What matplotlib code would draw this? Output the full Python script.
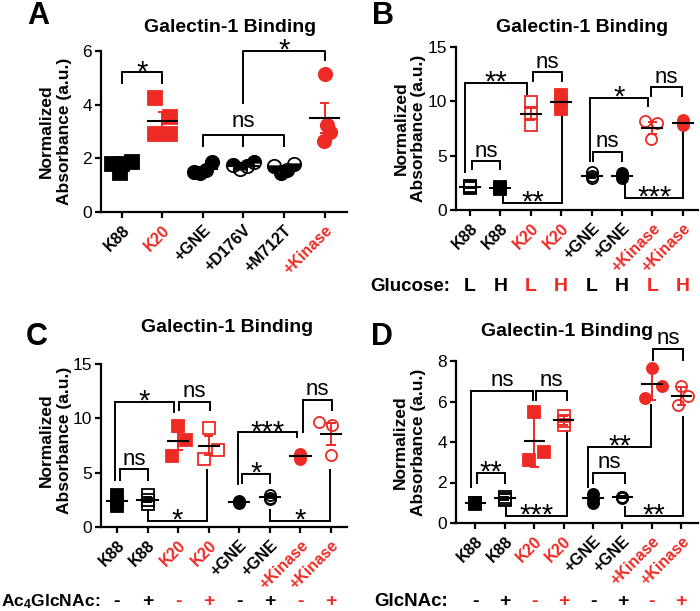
import matplotlib
matplotlib.use('Agg')
import matplotlib.pyplot as plt
import matplotlib.transforms as mtransforms
import numpy as np

plt.rcParams['font.family'] = ['Liberation Sans', 'DejaVu Sans']
plt.rcParams['mathtext.fontset'] = 'custom'
plt.rcParams['mathtext.rm'] = 'Liberation Sans:bold'
plt.rcParams['mathtext.it'] = 'Liberation Sans:bold'
plt.rcParams['mathtext.bf'] = 'Liberation Sans:bold'

RED = '#EE2A24'
BLK = 'black'
W, H = 700, 611

# ---------------- data ----------------
# Panel A
a_labels = ['K88', 'K20', '+GNE', '+D176V', '+M712T', '+Kinase']
a_k88 = [1.78, 1.80, 1.85, 1.45]
a_k20 = [4.25, 3.55, 2.90, 2.90]
a_gne = [1.50, 1.45, 1.55, 1.85]
a_d176v = [1.75, 1.60, 1.70, 1.85]
a_m712t = [1.70, 1.45, 1.55, 1.80]
a_kinase = [5.15, 3.25, 3.00, 2.65]

# Panel B (glucose L / H)
b_labels = ['K88', 'K88', 'K20', 'K20', '+GNE', '+GNE', '+Kinase', '+Kinase']
b_glucose = ['L', 'H', 'L', 'H', 'L', 'H', 'L', 'H']
b_k88_l = [2.2, 2.1, 2.0]
b_k88_h = [2.1, 2.0, 1.9]
b_k20_l = [9.9, 8.9, 7.8]
b_k20_h = [10.6, 10.0, 9.3]
b_gne_l = [3.5, 3.1, 2.9]
b_gne_h = [3.4, 3.2, 2.9]
b_kin_l = [8.2, 8.0, 6.5]
b_kin_h = [8.3, 8.0, 7.8]

# Panel C (Ac4GlcNAc - / +)
c_labels = b_labels
c_signs = ['-', '+', '-', '+', '-', '+', '-', '+']
c_k88_m = [2.9, 2.3, 1.9]
c_k88_p = [2.9, 2.5, 2.1]
c_k20_m = [9.3, 8.0, 6.5]
c_k20_p = [9.1, 7.1, 6.3]
c_gne_m = [2.4, 2.3, 2.2]
c_gne_p = [2.9, 2.7, 2.6]
c_kin_m = [6.7, 6.5, 6.3]
c_kin_p = [9.7, 9.4, 6.6]

# Panel D (GlcNAc - / +)
d_labels = b_labels
d_signs = c_signs
d_k88_m = [1.0, 1.0, 0.95]
d_k88_p = [1.3, 1.2, 1.15]
d_k20_m = [5.5, 3.5, 3.1]
d_k20_p = [5.3, 5.05, 4.85]
d_gne_m = [1.45, 1.2, 1.0]
d_gne_p = [1.3, 1.3, 1.25]
d_kin_m = [7.65, 6.75, 6.15]
d_kin_p = [6.75, 6.25, 5.85]

colors6 = [BLK, RED, BLK, BLK, BLK, RED]
colors8 = [BLK, BLK, RED, RED, BLK, BLK, RED, RED]

# horizontal scatter offsets (layout only)
a_offsets = [[-0.25, 0.0, 0.25, -0.05], [-0.19, 0.18, -0.19, 0.18],
             [-0.22, -0.08, 0.08, 0.22], [-0.25, -0.08, 0.08, 0.25],
             [-0.25, -0.08, 0.08, 0.25], [0.0, 0.05, 0.12, -0.02]]
z3 = [0, 0, 0]
b_offsets = [z3, z3, z3, z3, z3, z3, [-0.25, 0.15, -0.05], z3]
c_offsets = [z3, z3, [0, 0.27, -0.2], [0, 0.3, -0.17], z3, z3, z3, [-0.4, 0.03, 0]]
d_offsets = [z3, z3, [0, 0.34, -0.17], z3, z3, z3, [0, 0.34, -0.23], [0, 0.22, -0.12]]

fig = plt.figure(figsize=(7.0, 6.11), dpi=100)


def add_axes(lpx, rpx, y0px, ytpx):
    return fig.add_axes([lpx / W, (H - y0px) / H, (rpx - lpx) / W, (y0px - ytpx) / H])


def style_axis(ax, xlim, ymax, yticks, labels, colors):
    ax.set_xlim(*xlim)
    ax.set_ylim(0, ymax)
    for s in ['top', 'right']:
        ax.spines[s].set_visible(False)
    for s in ['left', 'bottom']:
        ax.spines[s].set_linewidth(1.6)
    ax.tick_params(axis='both', direction='out', length=4.5, width=1.6, labelsize=12.5, pad=2)
    ax.tick_params(axis='x', pad=3)
    ax.set_yticks(yticks)
    ax.set_xticks(range(len(labels)))
    ax.set_xticklabels(labels, rotation=45, ha='right', va='top', rotation_mode='anchor',
                       fontsize=11.5, fontweight='bold')
    for t, c in zip(ax.get_xticklabels(), colors):
        t.set_color(c)
    ax.patch.set_visible(False)


def draw_group(ax, x, vals, offs, marker, ms, color, fill, err, mean_hw, cap_hw):
    vals = np.asarray(vals, dtype=float)
    for v, o in zip(vals, offs):
        kw = dict(marker=marker, ms=ms, mec=color, mew=1.3, ls='none', zorder=3, clip_on=False)
        if fill == 'full':
            kw.update(mfc=color)
        elif fill == 'open':
            kw.update(mfc='none')
        else:
            kw.update(mfc=color, fillstyle=fill, markerfacecoloralt='none')
        ax.plot([x + o], [v], **kw)
    m = vals.mean()
    e = vals.std(ddof=1)
    if err == 'sem':
        e = e / np.sqrt(len(vals))
    ax.plot([x, x], [m - e, m + e], color=color, lw=1.4, zorder=4, solid_capstyle='butt', clip_on=False)
    for yy in (m - e, m + e):
        ax.plot([x - cap_hw, x + cap_hw], [yy, yy], color=color, lw=1.4, zorder=4, clip_on=False)
    ax.plot([x - mean_hw, x + mean_hw], [m, m], color='black', lw=1.5, zorder=5, clip_on=False)


def sig_label(ax, x, y, label, extra=0.0):
    if label == 'ns':
        ax.annotate('ns', (x, y), xytext=(0, 3.3 + extra), textcoords='offset points',
                    ha='center', va='baseline', fontsize=16, annotation_clip=False)
    else:
        ax.annotate(label, (x, y), xytext=(0, -5.6 + extra), textcoords='offset points',
                    ha='center', va='baseline', fontsize=21, annotation_clip=False)


def bracket(ax, x1, x2, y, e1, e2, label):
    ax.plot([x1, x1, x2, x2], [e1, y, y, e2], color='black', lw=1.4, zorder=2,
            clip_on=False, solid_joinstyle='miter')
    sig_label(ax, (x1 + x2) / 2, y, label)


def blended(ax):
    return mtransforms.blended_transform_factory(ax.transData, fig.transFigure)


def fig_text(xpx, ypx, s, **kw):
    fig.text(xpx / W, 1 - ypx / H, s, **kw)


# ---------------- Panel A ----------------
axA = add_axes(101, 347, 212, 51)
style_axis(axA, (-0.51, 5.55), 6, [0, 2, 4, 6], a_labels, colors6)
a_groups = [a_k88, a_k20, a_gne, a_d176v, a_m712t, a_kinase]
a_markers = ['s', 's', 'o', 'o', 'o', 'o']
a_fills = ['full', 'full', 'full', 'top', 'bottom', 'full']
for i, (vals, offs, mk, fl, col) in enumerate(zip(a_groups, a_offsets, a_markers, a_fills, colors6)):
    draw_group(axA, i, vals, offs, mk, 9.6, col, fl, 'sem', 0.35, 0.09)
bracket(axA, 0, 1, 5.2, 4.8, 4.8, '*')
axA.plot([2, 2, 4, 4], [2.45, 2.87, 2.87, 2.45], color='black', lw=1.4, zorder=2)
axA.plot([3, 3], [2.87, 2.45], color='black', lw=1.4, zorder=2)
sig_label(axA, 3, 2.87, 'ns', extra=2.5)
axA.plot([3, 3, 5, 5], [4.07, 6.0, 6.0, 5.65], color='black', lw=1.4, zorder=2, clip_on=False)
sig_label(axA, 4, 6.0, '*')

# ---------------- Panel B ----------------
axB = add_axes(456, 698, 210, 47)
style_axis(axB, (-0.46, 7.5), 15, [0, 5, 10, 15], b_labels, colors8)
b_groups = [b_k88_l, b_k88_h, b_k20_l, b_k20_h, b_gne_l, b_gne_h, b_kin_l, b_kin_h]
markers8 = ['s', 's', 's', 's', 'o', 'o', 'o', 'o']
b_fills = ['open', 'full', 'open', 'full', 'open', 'full', 'open', 'full']
for i, (vals, offs, mk, fl, col) in enumerate(zip(b_groups, b_offsets, markers8, b_fills, colors8)):
    draw_group(axB, i, vals, offs, mk, 8.0, col, fl, 'sem', 0.33, 0.12)
bracket(axB, 0.05, 1.0, 4.5, 3.8, 3.8, 'ns')
bracket(axB, -0.16, 1.86, 11.67, 3.5, 10.7, '**')
bracket(axB, 2.08, 3.03, 12.68, 11.9, 11.9, 'ns')
bracket(axB, 1.1, 3.03, 0.63, 1.6, 9.0, '**')
bracket(axB, 3.95, 5.85, 10.3, 4.55, 9.6, '*')
bracket(axB, 5.95, 6.98, 11.3, 10.5, 10.5, 'ns')
bracket(axB, 4.05, 5.0, 5.35, 4.55, 4.55, 'ns')
bracket(axB, 5.1, 7.02, 1.1, 2.3, 7.2, '***')
tB = blended(axB)
fig_text(450, 291, 'Glucose:', ha='right', va='baseline', fontsize=13.5, fontweight='bold')
for i, (s, c) in enumerate(zip(b_glucose, colors8)):
    axB.text(i, 1 - 291 / H, s, transform=tB, ha='center', va='baseline', fontsize=14,
             fontweight='bold', color=c)

# ---------------- Panel C ----------------
axC = add_axes(101, 347, 527, 364)
style_axis(axC, (-0.52, 7.52), 15, [0, 5, 10, 15], c_labels, colors8)
c_groups = [c_k88_m, c_k88_p, c_k20_m, c_k20_p, c_gne_m, c_gne_p, c_kin_m, c_kin_p]
c_fills = ['full', 'open', 'full', 'open', 'full', 'open', 'full', 'open']
for i, (vals, offs, mk, fl, col) in enumerate(zip(c_groups, c_offsets, markers8, c_fills, colors8)):
    draw_group(axC, i, vals, offs, mk, 8.0, col, fl, 'sem', 0.33, 0.12)
bracket(axC, -0.07, 1.86, 11.5, 4.3, 10.6, '*')
bracket(axC, 2.02, 3.05, 11.5, 10.76, 10.76, 'ns')
bracket(axC, 0.1, 1.02, 5.3, 4.3, 4.3, 'ns')
bracket(axC, 1.02, 2.95, 0.58, 1.56, 5.24, '*')
bracket(axC, 3.96, 5.9, 8.7, 4.0, 8.25, '***')
bracket(axC, 6.08, 7.02, 11.7, 8.77, 10.76, 'ns')
bracket(axC, 4.1, 5.0, 4.88, 4.08, 4.08, '*')
bracket(axC, 5.0, 6.98, 0.58, 1.56, 5.24, '*')
tC = blended(axC)
fig_text(1, 606, 'Ac$_4$GlcNAc:', ha='left', va='baseline', fontsize=12.6, fontweight='bold')
for i, (s, c) in enumerate(zip(c_signs, colors8)):
    axC.text(i, 1 - 606 / H, s, transform=tC, ha='center', va='baseline', fontsize=14,
             fontweight='bold', color=c)

# ---------------- Panel D ----------------
axD = add_axes(456, 698, 523, 361)
style_axis(axD, (-0.66, 7.57), 8, [0, 2, 4, 6, 8], d_labels, colors8)
d_groups = [d_k88_m, d_k88_p, d_k20_m, d_k20_p, d_gne_m, d_gne_p, d_kin_m, d_kin_p]
for i, (vals, offs, mk, fl, col) in enumerate(zip(d_groups, d_offsets, markers8, c_fills, colors8)):
    draw_group(axD, i, vals, offs, mk, 8.0, col, fl, 'sd', 0.33, 0.12)
bracket(axD, -0.15, 1.96, 6.52, 1.8, 6.07, 'ns')
bracket(axD, 2.07, 3.1, 6.52, 6.07, 6.07, 'ns')
bracket(axD, 0.06, 1.02, 2.48, 1.96, 1.96, '**')
bracket(axD, 1.05, 3.1, 0.35, 0.8, 4.5, '***')
bracket(axD, 3.83, 5.97, 3.77, 1.8, 5.83, '**')
bracket(axD, 4.0, 5.09, 2.48, 1.96, 1.96, 'ns')
bracket(axD, 5.09, 7.07, 0.35, 0.8, 5.25, '**')
bracket(axD, 6.05, 7.07, 8.6, 8.05, 8.05, 'ns')
tD = blended(axD)
fig_text(448, 606, 'GlcNAc:', ha='right', va='baseline', fontsize=13.5, fontweight='bold')
for i, (s, c) in enumerate(zip(d_signs, colors8)):
    axD.text(i, 1 - 606 / H, s, transform=tD, ha='center', va='baseline', fontsize=14,
             fontweight='bold', color=c)

# ---------------- titles, labels ----------------
ylab = 'Normalized\nAbsorbance (a.u.)'
for (x, y) in [(55, 131), (410, 128), (55, 440), (409, 442)]:
    fig_text(x, y, ylab, rotation=90, ha='center', va='center', fontsize=12.5,
             fontweight='bold', linespacing=1.25, multialignment='center')
for (x, y) in [(230, 27), (582, 28), (227, 328), (567, 332)]:
    fig_text(x, y, 'Galectin-1 Binding', ha='center', va='center', fontsize=14, fontweight='bold')
for (x, y, s) in [(38, 16, 'A'), (383, 16, 'B'), (37, 337, 'C'), (382, 337, 'D')]:
    fig_text(x, y, s, ha='center', va='center', fontsize=22, fontweight='bold')

fig.savefig('out.png', dpi=100)
